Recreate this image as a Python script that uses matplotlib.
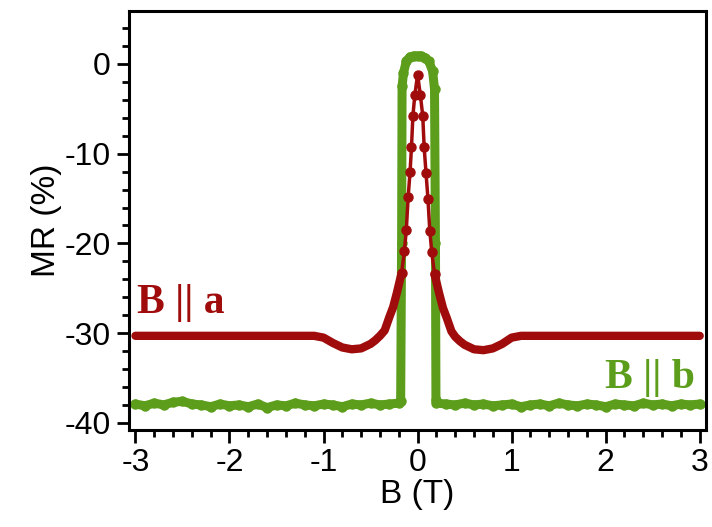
import numpy as np
import matplotlib.pyplot as plt
from matplotlib.ticker import MultipleLocator

plt.rcParams['axes.unicode_minus'] = False

# B || a (red)
b_a = [-3.0, -2.0, -1.2, -1.1, -1.0, -0.9, -0.8, -0.7, -0.6, -0.5, -0.45, -0.4,
       -0.35, -0.3, -0.26, -0.22, -0.17, -0.14, -0.12, -0.1, -0.08, -0.065, -0.05,
       -0.03, 0.0, 0.03, 0.055, 0.07, 0.09, 0.11, 0.13, 0.15, 0.18, 0.23, 0.27,
       0.31, 0.36, 0.4, 0.45, 0.5, 0.6, 0.7, 0.8, 0.9, 1.0, 1.1, 1.2, 2.0, 3.0]
mr_a = [-30.3, -30.3, -30.3, -30.3, -30.5, -31.1, -31.6, -31.8, -31.7, -31.2, -30.8, -30.3,
        -29.7, -28.2, -27.1, -25.5, -23.3, -20.8, -18.5, -14.8, -12.0, -9.3, -5.8,
        -3.5, -1.2, -3.5, -5.8, -9.3, -12.2, -15.0, -18.6, -20.9, -23.4, -25.6, -27.2,
        -28.3, -29.8, -30.4, -30.9, -31.3, -31.8, -31.9, -31.7, -31.2, -30.5, -30.3, -30.3, -30.3, -30.3]

# B || b (green)
b_b = [-3.0, -2.9, -2.8, -2.7, -2.6, -2.5, -2.4, -2.3, -2.2, -2.1, -2.0, -1.9, -1.8,
       -1.7, -1.6, -1.5, -1.4, -1.3, -1.2, -1.1, -1.0, -0.9, -0.8, -0.7, -0.6, -0.5,
       -0.4, -0.3, -0.2, -0.18, -0.17, -0.165, -0.15, -0.12, -0.08, -0.04, 0.0, 0.04,
       0.08, 0.12, 0.16, 0.18, 0.19, 0.195, 0.2, 0.3, 0.4, 0.5, 0.6, 0.7, 0.8, 0.9,
       1.0, 1.1, 1.2, 1.3, 1.4, 1.5, 1.6, 1.7, 1.8, 1.9, 2.0, 2.1, 2.2, 2.3, 2.4, 2.5,
       2.6, 2.7, 2.8, 2.9, 3.0]
mr_b = [-37.9, -38.1, -37.8, -38.0, -37.7, -37.6, -37.9, -38.0, -38.2, -37.9, -38.1, -38.0, -38.2,
        -37.9, -38.3, -38.0, -38.1, -37.8, -38.0, -38.1, -37.9, -38.0, -38.2, -37.9, -38.0, -37.8,
        -38.0, -37.9, -37.8, -37.6, -20.0, -2.5, -1.0, 0.3, 0.8, 0.9, 0.9, 0.9,
        0.7, 0.3, -0.8, -2.8, -20.0, -37.4, -37.8, -37.9, -38.0, -37.8, -38.0, -37.9, -38.1, -38.0,
        -37.9, -38.2, -38.0, -37.9, -38.1, -37.8, -38.0, -38.1, -37.9, -38.0, -38.2, -37.9, -38.0, -38.1,
        -37.8, -38.0, -37.9, -38.1, -37.9, -38.0, -37.9]

red = '#a00c0c'
green = '#5c9e1c'

fig = plt.figure(figsize=(7.12, 5.27), dpi=100)
ax = fig.add_axes([0.181, 0.184, 0.811, 0.795])

ax.plot(b_b, mr_b, color=green, lw=6.5, solid_capstyle='round', solid_joinstyle='round',
        marker='o', ms=6.5)

# thick outer wings, thin line with dots in the sharp peak
left = [i for i, b in enumerate(b_a) if b <= -0.17]
right = [i for i, b in enumerate(b_a) if b >= 0.18]
center = [i for i, b in enumerate(b_a) if -0.17 <= b <= 0.18]
for idx in (left, right):
    ax.plot([b_a[i] for i in idx], [mr_a[i] for i in idx], color=red, lw=6,
            solid_capstyle='round', solid_joinstyle='round')
ax.plot([b_a[i] for i in center], [mr_a[i] for i in center], color=red, lw=2.5,
        marker='o', ms=6.5)

ax.set_xlim(-3.07, 3.07)
ax.set_ylim(-40.8, 5.9)
ax.xaxis.set_major_locator(MultipleLocator(1))
ax.xaxis.set_minor_locator(MultipleLocator(0.2))
ax.yaxis.set_major_locator(MultipleLocator(10))
ax.yaxis.set_minor_locator(MultipleLocator(2))
ax.tick_params(which='major', direction='out', length=9, width=2, labelsize=23, pad=4)
ax.tick_params(which='minor', direction='out', length=5, width=2)
for s in ax.spines.values():
    s.set_linewidth(2.2)

for lab in ax.get_xticklabels() + ax.get_yticklabels():
    lab.set_family('Liberation Sans')
ax.set_xlabel('B (T)', fontsize=24, family='Liberation Sans', labelpad=1)
ax.set_ylabel('MR (%)', fontsize=24, family='Liberation Sans', labelpad=2)

ax.text(-2.98, -27.8, 'B || a', color=red, fontsize=30, fontweight='bold',
        family='Liberation Serif', ha='left', va='baseline')
ax.text(2.95, -36.1, 'B || b', color=green, fontsize=30, fontweight='bold',
        family='Liberation Serif', ha='right', va='baseline')

fig.savefig('out.png', dpi=100)
